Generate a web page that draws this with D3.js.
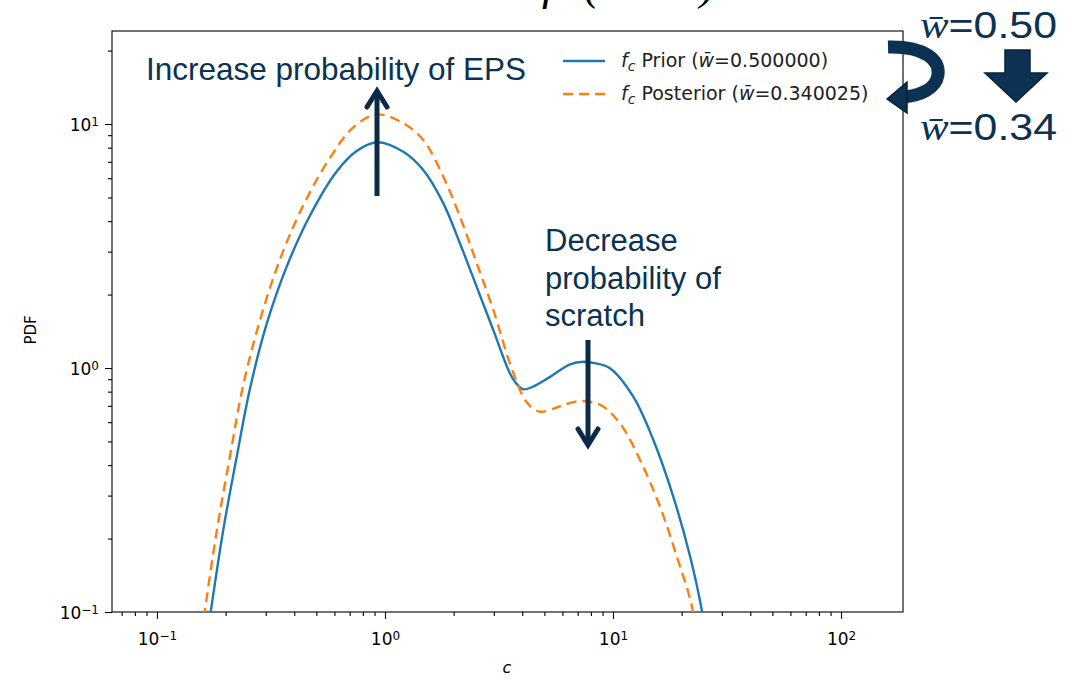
<html>
<head>
<meta charset="utf-8">
<script src="https://cdn.jsdelivr.net/npm/d3@7"></script>
<style>
    body { margin: 0; background: #fff; }
    text { font-family: "DejaVu Sans", sans-serif; }
    .tick text { font-size: 17px; fill: #000; }
    .tick line { stroke: #000; stroke-width: 1.1px; }
    .domain { display: none; }
    .note { font-family: "Liberation Sans", Arial, sans-serif; fill: #0b3252; }
    .legend text { font-size: 19px; fill: #222; }
</style>
</head>
<body>
<script>

    // values (c, pdf)
    var priorC   = [0.155, 0.172, 0.195, 0.224, 0.256, 0.303, 0.371, 0.469, 0.614, 0.751, 0.92, 1.203, 1.472, 1.803, 2.133, 2.525, 2.986, 3.53, 3.75, 4.04, 4.41, 5.3, 6.48, 7.41, 8.42, 9.70, 12.27, 15.03, 18.38, 21.8, 24.5, 27];
    var priorPdf = [0.052, 0.1, 0.215, 0.435, 0.826, 1.52, 2.61, 4.22, 6.39, 7.75, 8.42, 7.70, 6.48, 4.73, 3.24, 2.15, 1.43, 0.951, 0.868, 0.818, 0.835, 0.92, 1.035, 1.061, 1.045, 0.998, 0.763, 0.507, 0.297, 0.1685, 0.102, 0.055];

    var postC   = [0.148, 0.162, 0.183, 0.209, 0.239, 0.283, 0.346, 0.438, 0.574, 0.726, 0.92, 1.203, 1.472, 1.803, 2.133, 2.525, 2.986, 3.53, 4.04, 4.32, 4.78, 5.57, 6.05, 7.16, 8.81, 10.73, 13.14, 16.08, 19.06, 22.2, 24.5];
    var postPdf = [0.052, 0.1, 0.215, 0.435, 0.852, 1.57, 2.78, 4.64, 7.27, 9.69, 10.95, 10.07, 8.60, 6.08, 4.17, 2.69, 1.73, 1.045, 0.763, 0.700, 0.662, 0.685, 0.705, 0.732, 0.705, 0.593, 0.420, 0.270, 0.1685, 0.105, 0.055];

    var xMajor = [0.1, 1, 10, 100];
    var xMajorExp = ["\u22121", "0", "1", "2"];
    var yMajor = [0.1, 1, 10];
    var yMajorExp = ["\u22121", "0", "1"];

    var width = 1086, height = 680;
    var pLeft = 112, pRight = 903, pTop = 31, pBottom = 612;

    var x = d3.scaleLog().domain([0.0635, 187]).range([pLeft, pRight]);
    var y = d3.scaleLog().domain([0.1, 24.06]).range([pBottom, pTop]);

    var svg = d3.select("body").append("svg")
        .attr("width", width)
        .attr("height", height);

    // clipped title remnant at the very top
    var ttl = svg.append("text")
        .attr("y", -1)
        .style("font-family", "'Liberation Serif', serif")
        .style("font-style", "italic")
        .style("font-size", "46px");
    ttl.append("tspan").attr("x", 542).text("f");
    ttl.append("tspan").attr("x", 584).text("(");
    ttl.append("tspan").attr("x", 700).text(")");

    svg.append("clipPath").attr("id", "plot")
        .append("rect")
        .attr("x", pLeft).attr("y", pTop)
        .attr("width", pRight - pLeft).attr("height", pBottom - pTop);

    // minor tick values
    function minors(lo, hi) {
        var out = [];
        for (var e = lo; e <= hi; e++) {
            for (var k = 2; k <= 9; k++) out.push(k * Math.pow(10, e));
        }
        return out;
    }
    var xMinor = minors(-2, 2).filter(function (v) { return v > 0.0635 && v < 187; });
    var yMinor = minors(-1, 1).filter(function (v) { return v < 24.06; });

    svg.append("g")
        .attr("transform", "translate(0," + pBottom + ")")
        .call(d3.axisBottom(x).tickValues(xMinor).tickSize(4).tickFormat(""));
    svg.append("g")
        .attr("transform", "translate(" + pLeft + ",0)")
        .call(d3.axisLeft(y).tickValues(yMinor).tickSize(4).tickFormat(""));

    var gx = svg.append("g")
        .attr("transform", "translate(0," + pBottom + ")")
        .call(d3.axisBottom(x).tickValues(xMajor).tickSize(7).tickPadding(10).tickFormat(""));
    gx.selectAll(".tick text").each(function (d, i) {
        var t = d3.select(this).attr("dy", "0.95em");
        t.append("tspan").text("10");
        t.append("tspan").attr("dy", "-0.45em").style("font-size", "12px").text(xMajorExp[i]);
    });

    var gy = svg.append("g")
        .attr("transform", "translate(" + pLeft + ",0)")
        .call(d3.axisLeft(y).tickValues(yMajor).tickSize(7).tickPadding(6).tickFormat(""));
    gy.selectAll(".tick text").each(function (d, i) {
        var t = d3.select(this).attr("dy", "0.4em");
        t.append("tspan").text("10");
        t.append("tspan").attr("dy", "-0.45em").style("font-size", "12px").text(yMajorExp[i]);
    });

    svg.append("rect")
        .attr("x", pLeft).attr("y", pTop)
        .attr("width", pRight - pLeft).attr("height", pBottom - pTop)
        .attr("fill", "none")
        .attr("stroke", "#000")
        .attr("stroke-width", 1.1);

    svg.append("text")
        .attr("x", 507).attr("y", 673)
        .attr("text-anchor", "middle")
        .style("font-size", "16px")
        .style("font-style", "italic")
        .text("c");

    svg.append("text")
        .attr("transform", "translate(36,330) rotate(-90)")
        .attr("text-anchor", "middle")
        .style("font-size", "15px")
        .text("PDF");

    var line = d3.line()
        .x(function (d) { return x(d[0]); })
        .y(function (d) { return y(d[1]); })
        .curve(d3.curveCatmullRom.alpha(0.5));

    var plot = svg.append("g").attr("clip-path", "url(#plot)");

    plot.append("path")
        .datum(d3.zip(priorC, priorPdf))
        .attr("d", line)
        .attr("fill", "none")
        .attr("stroke", "#1f77b4")
        .attr("stroke-width", 2.4);

    plot.append("path")
        .datum(d3.zip(postC, postPdf))
        .attr("d", line)
        .attr("fill", "none")
        .attr("stroke", "#ff7f0e")
        .attr("stroke-width", 2.4)
        .attr("stroke-dasharray", "10,6");

    // legend
    var legend = svg.append("g").attr("class", "legend");
    var items = [
        {name: " Prior (", val: "=0.500000)", color: "#1f77b4", dash: null},
        {name: " Posterior (", val: "=0.340025)", color: "#ff7f0e", dash: "10,6"}
    ];
    items.forEach(function (it, i) {
        var yy = 61 + i * 33;
        legend.append("line")
            .attr("x1", 563).attr("x2", 605)
            .attr("y1", yy).attr("y2", yy)
            .attr("stroke", it.color)
            .attr("stroke-width", 2.4)
            .attr("stroke-dasharray", it.dash);
        var t = legend.append("text").attr("x", 621).attr("y", yy + 6);
        t.append("tspan").style("font-style", "italic").text("f");
        t.append("tspan").attr("dy", 4).style("font-style", "italic").style("font-size", "14px").text("c");
        t.append("tspan").attr("dy", -4).text(it.name);
        t.append("tspan").style("font-style", "italic").text("w\u0304");
        t.append("tspan").text(it.val);
    });

    // annotations
    svg.append("text").attr("class", "note")
        .attr("x", 146).attr("y", 80)
        .style("font-size", "31.5px")
        .text("Increase probability of EPS");

    var dec = svg.append("text").attr("class", "note").style("font-size", "31px");
    ["Decrease", "probability of", "scratch"].forEach(function (s, i) {
        dec.append("tspan").attr("x", 545).attr("y", 251 + i * 37.5).text(s);
    });

    function arrow(x0, y0, y1) {
        var dir = y1 < y0 ? 1 : -1;
        svg.append("line")
            .attr("x1", x0).attr("x2", x0)
            .attr("y1", y0).attr("y2", y1 + dir * 3)
            .attr("stroke", "#0b2a45").attr("stroke-width", 5);
        svg.append("path")
            .attr("d", "M" + (x0 - 10) + "," + (y1 + dir * 18) + "L" + x0 + "," + (y1 + dir * 2) + "L" + (x0 + 10) + "," + (y1 + dir * 18))
            .attr("fill", "none")
            .attr("stroke", "#0b2a45").attr("stroke-width", 5)
            .attr("stroke-linecap", "round");
    }
    arrow(377, 196, 89);
    arrow(588, 340, 447);

    // right-hand w-bar notes
    function wbar(yy, val) {
        var t = svg.append("text").attr("class", "note")
            .attr("x", 920).attr("y", yy)
            .attr("textLength", 137)
            .attr("lengthAdjust", "spacingAndGlyphs")
            .style("font-size", "37px");
        t.append("tspan").style("font-family", "'Liberation Serif', serif").style("font-style", "italic").text("w\u0304");
        t.append("tspan").text("=" + val);
    }
    wbar(38, "0.50");
    wbar(140, "0.34");

    svg.append("path")
        .attr("d", "M1005,50L1030,50L1030,73L1047,73L1016,102L985,73L1005,73Z")
        .attr("fill", "#0d3152")
        .attr("stroke", "#082238")
        .attr("stroke-width", 1.5);

    // curved arrow
    svg.append("path")
        .attr("d", "M888,47C925,46 940,60 938,75C936,89 920,95 904,97")
        .attr("fill", "none")
        .attr("stroke", "#0d3152")
        .attr("stroke-width", 13);
    svg.append("path")
        .attr("d", "M887,99L907,82L907,113Z")
        .attr("fill", "#0d3152")
        .attr("stroke", "#082238")
        .attr("stroke-width", 1.5);

</script>
</body>
</html>
